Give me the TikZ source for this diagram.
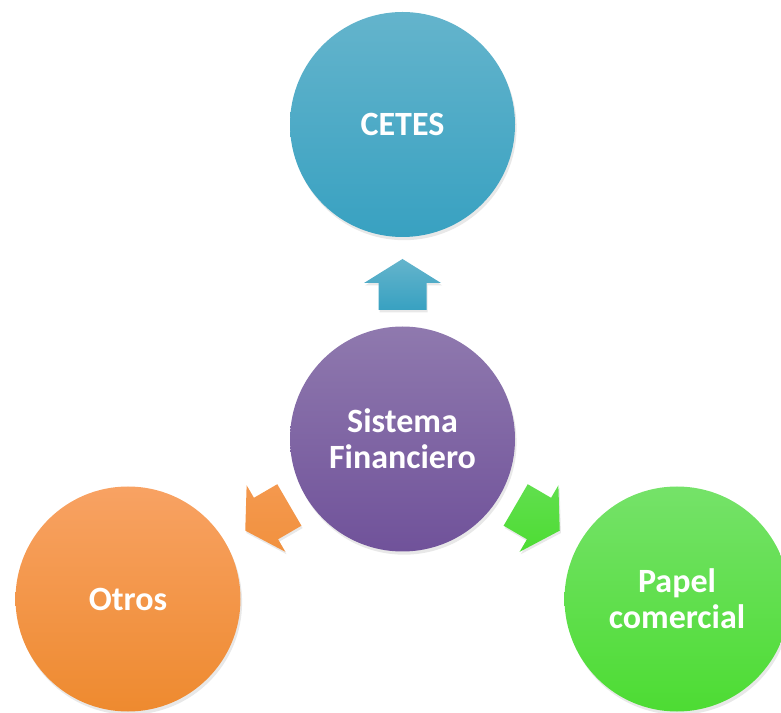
\documentclass[tikz,border=0pt]{standalone}
\usepackage{fontspec}
\setmainfont{Carlito}
\usetikzlibrary{calc, shadows}
\definecolor{ceteshi}{HTML}{64B4CC}
\definecolor{ceteslo}{HTML}{38A1C1}
\definecolor{sfhi}{HTML}{8F79AE}
\definecolor{sflo}{HTML}{70529A}
\definecolor{otroshi}{HTML}{F8A263}
\definecolor{otroslo}{HTML}{EE8A2F}
\definecolor{papelhi}{HTML}{75E269}
\definecolor{papello}{HTML}{4DDC33}
\tikzset{
  bubble/.style={circle, minimum size=112.5pt, inner sep=0pt, align=center,
    text=white, font=\fontsize{17}{18}\selectfont\bfseries,
    drop shadow={opacity=0.18, shadow xshift=0.8pt, shadow yshift=-1.6pt}},
  pics/blockarrow/.style n args={2}{code={
    \shade[top color=#1, bottom color=#2,
      drop shadow={opacity=0.18, shadow xshift=0.6pt, shadow yshift=-1.2pt}]
      (0,-24) -- (27,-24) -- (27,-38.5) -- (51,0) -- (27,38.5) -- (27,24) -- (0,24) -- cycle;
  }}
}
\begin{document}
\begin{tikzpicture}[x=0.5pt, y=0.5pt]
    \useasboundingbox (0,0) rectangle (781,712);

    % Circles
    \node[bubble, top color=sfhi, bottom color=sflo] (sf) at (402.5,273) {Sistema\\Financiero};
    \node[bubble, top color=ceteshi, bottom color=ceteslo] (cetes) at (402.5,587.5) {CETES};
    \node[bubble, top color=otroshi, bottom color=otroslo] (otros) at (128,113) {Otros};
    \node[bubble, top color=papelhi, bottom color=papello] (papel) at (677,113) {Papel\\comercial};

    % Block arrows
    \pic[rotate=90] (toCetes) at ($(sf)!64.5pt!(cetes)$) {blockarrow={ceteshi}{ceteslo}};
    \pic[rotate=210.2] (toOtros) at ($(sf)!65.5pt!(otros)$) {blockarrow={otroshi!60!otroslo}{otroslo!70!otroshi}};
    \pic[rotate=-30.2] (toPapel) at ($(sf)!65.5pt!(papel)$) {blockarrow={papelhi!50!papello}{papello}};
\end{tikzpicture}
\end{document}
